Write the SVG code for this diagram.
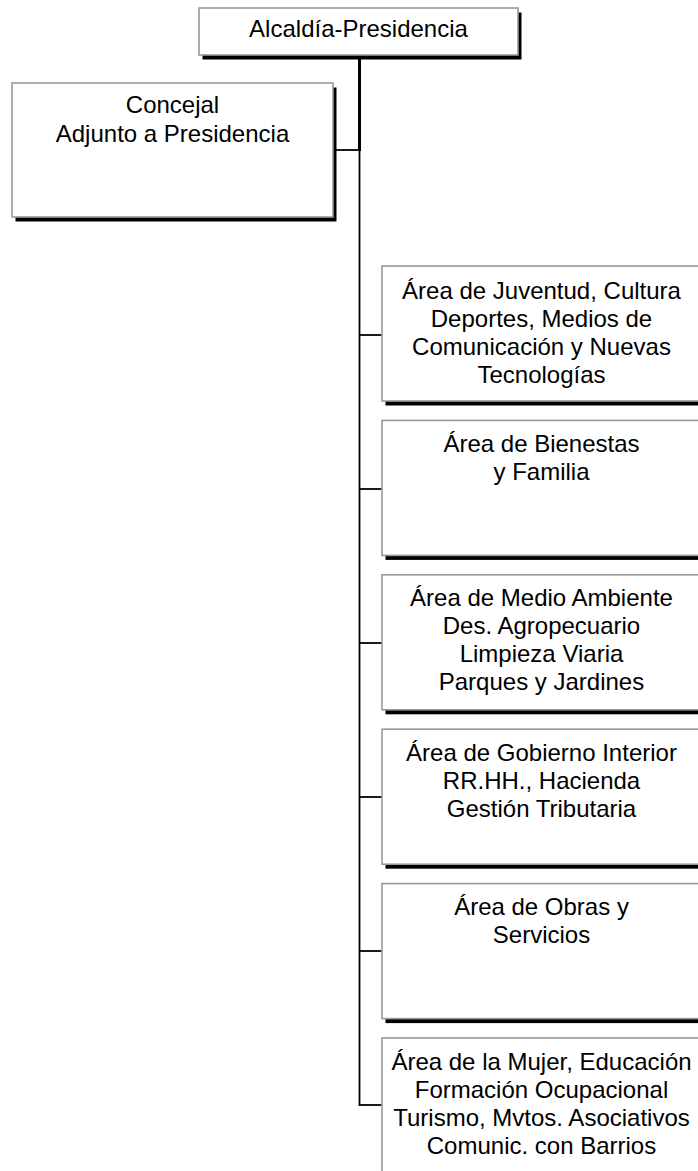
<svg xmlns="http://www.w3.org/2000/svg" width="698" height="1171" viewBox="0 0 698 1171">
<style>
.sh{fill:#000;}
.bx{fill:#fff;stroke:#999;stroke-width:1.6;}
.t{font-family:"Liberation Sans",Arial,sans-serif;font-size:24px;fill:#000;text-anchor:middle;}
.c{stroke:#000;fill:none;}
</style>
<rect width="698" height="1171" fill="#fff"/>
<g id="connectors">
<line class="c" x1="359.5" y1="55" x2="359.5" y2="151" stroke-width="3"/>
<line class="c" x1="359.5" y1="150" x2="359.5" y2="1106" stroke-width="1.8"/>
<line class="c" x1="336" y1="150" x2="360" y2="150" stroke-width="1.8"/>
<line class="c" x1="359" y1="335" x2="382" y2="335" stroke-width="1.8"/>
<line class="c" x1="359" y1="489" x2="382" y2="489" stroke-width="1.8"/>
<line class="c" x1="359" y1="643" x2="382" y2="643" stroke-width="1.8"/>
<line class="c" x1="359" y1="797" x2="382" y2="797" stroke-width="1.8"/>
<line class="c" x1="359" y1="951" x2="382" y2="951" stroke-width="1.8"/>
<line class="c" x1="359" y1="1105" x2="382" y2="1105" stroke-width="1.8"/>
</g>
<g id="alcaldia">
<rect class="sh" x="202.5" y="12.5" width="319" height="47"/>
<rect class="bx" x="199" y="8" width="319" height="47"/>
<text class="t" x="358.5" y="37">Alcaldía-Presidencia</text>
</g>
<g id="concejal">
<rect class="sh" x="15.5" y="87.5" width="321" height="134"/>
<rect class="bx" x="12" y="83" width="321" height="134"/>
<text class="t" x="172.5" y="113">Concejal</text>
<text class="t" x="172.5" y="142">Adjunto a Presidencia</text>
</g>
<g id="area-juventud">
<rect class="sh" x="385.5" y="270.5" width="319" height="135"/>
<rect class="bx" x="382" y="266" width="319" height="135"/>
<text class="t" x="541.5" y="299">Área de Juventud, Cultura</text>
<text class="t" x="541.5" y="327">Deportes, Medios de</text>
<text class="t" x="541.5" y="355">Comunicación y Nuevas</text>
<text class="t" x="541.5" y="383">Tecnologías</text>
</g>
<g id="area-bienestar">
<rect class="sh" x="385.5" y="424.9" width="319" height="135"/>
<rect class="bx" x="382" y="420.4" width="319" height="135"/>
<text class="t" x="541.5" y="452">Área de Bienestas</text>
<text class="t" x="541.5" y="480">y Familia</text>
</g>
<g id="area-medio-ambiente">
<rect class="sh" x="385.5" y="579.3" width="319" height="135"/>
<rect class="bx" x="382" y="574.8" width="319" height="135"/>
<text class="t" x="541.5" y="606">Área de Medio Ambiente</text>
<text class="t" x="541.5" y="634">Des. Agropecuario</text>
<text class="t" x="541.5" y="662">Limpieza Viaria</text>
<text class="t" x="541.5" y="690">Parques y Jardines</text>
</g>
<g id="area-gobierno">
<rect class="sh" x="385.5" y="733.7" width="319" height="135"/>
<rect class="bx" x="382" y="729.2" width="319" height="135"/>
<text class="t" x="541.5" y="761">Área de Gobierno Interior</text>
<text class="t" x="541.5" y="789">RR.HH., Hacienda</text>
<text class="t" x="541.5" y="817">Gestión Tributaria</text>
</g>
<g id="area-obras">
<rect class="sh" x="385.5" y="888.1" width="319" height="135"/>
<rect class="bx" x="382" y="883.6" width="319" height="135"/>
<text class="t" x="541.5" y="915">Área de Obras y</text>
<text class="t" x="541.5" y="943">Servicios</text>
</g>
<g id="area-mujer">
<rect class="sh" x="385.5" y="1042.5" width="319" height="135"/>
<rect class="bx" x="382" y="1038" width="319" height="135"/>
<text class="t" x="541.5" y="1070">Área de la Mujer, Educación</text>
<text class="t" x="541.5" y="1098">Formación Ocupacional</text>
<text class="t" x="541.5" y="1126">Turismo, Mvtos. Asociativos</text>
<text class="t" x="541.5" y="1154">Comunic. con Barrios</text>
</g>
</svg>
